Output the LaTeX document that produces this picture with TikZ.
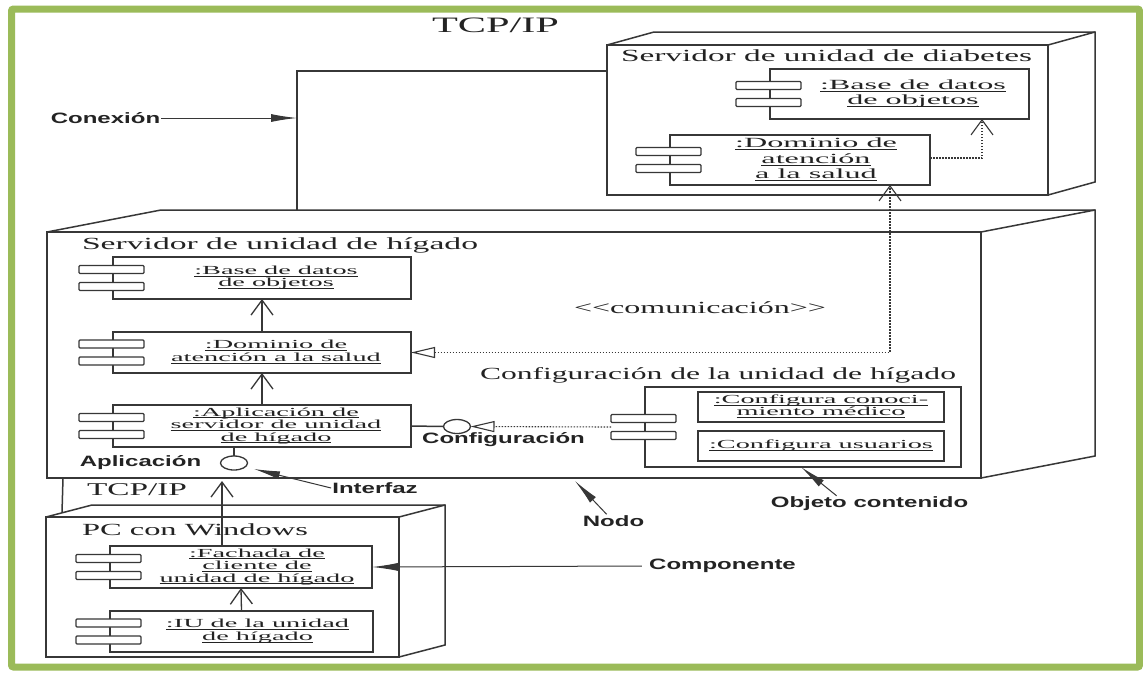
\documentclass[tikz,border=0pt]{standalone}
\usepackage{fontspec}
\usepackage{graphicx}
\usetikzlibrary{arrows.meta,calc,shapes.geometric}
\setmainfont{Liberation Serif}
\newfontfamily\cmpfont[FakeStretch=2.3]{Liberation Serif}
\newfontfamily\lblfont[FakeStretch=1.6]{Liberation Sans}
\definecolor{framegreen}{RGB}{155,187,89}
\definecolor{ink}{RGB}{55,55,55}
\definecolor{txt}{RGB}{35,35,35}

% single-line text stretched horizontally to a given width
\newcommand\fitw[3]{\resizebox{#1pt}{\height}{\fontsize{#2}{#2}\selectfont #3}}
% underline placed just below the baseline
\newcommand\ulin[1]{\setbox0=\hbox{#1}\rlap{\vrule height -1.4pt depth 2.4pt width \wd0}\box0}
% centred component label, shifted right by #1
\newcommand\cmptext[4]{\hspace*{#1pt}{\cmpfont\fontsize{#2}{#3}\selectfont\begin{tabular}{@{}c@{}}#4\end{tabular}}}
% the two small port rectangles of a UML component
\newcommand\cports[1]{%
  \draw[port] ($(#1.west)+(-34,-12.5)$) rectangle ($(#1.west)+(31,-4.5)$);
  \draw[port] ($(#1.west)+(-34,4.5)$) rectangle ($(#1.west)+(31,12.5)$);}
% top and side faces of a 3D deployment node
\newcommand\depthfaces[3]{%
  \draw[boxline] (#1.north west) -- ++(#2,#3) -- ($(#1.north east)+(#2,#3)$)
     -- ($(#1.south east)+(#2,#3)$) -- (#1.south east);
  \draw[boxline] (#1.north east) -- ++(#2,#3);}

\tikzset{
  boxline/.style={draw=ink, line width=1.5pt},
  face/.style={draw=ink, line width=1.5pt, fill=white, inner sep=0pt, outer sep=0pt, anchor=north west},
  comp/.style={draw=ink, line width=1.3pt, fill=white, inner sep=0pt, outer sep=0pt, text=txt},
  port/.style={draw=ink, line width=1.2pt, fill=white, rounded corners=1pt},
  title/.style={inner sep=0pt, outer sep=0pt, anchor=base west, text=txt},
  lbl/.style={inner sep=1pt, text=txt, font=\lblfont\bfseries\fontsize{15}{15}\selectfont},
  vee/.style={-{Straight Barb[length=15pt,width=22pt]}},
  navarrow/.style={draw=ink, line width=1.3pt, vee},
  dep/.style={draw=ink, line width=1.1pt, dash pattern=on 1.5pt off 1.5pt},
  hollow/.tip={Triangle[open,length=24pt,width=11pt]},
  annot/.style={draw=ink, line width=1pt, -{Latex[length=26pt,width=8pt]}},
  iface/.style={draw=ink, line width=1.3pt, fill=white, ellipse, minimum width=27pt,
    minimum height=14pt, inner sep=0pt, outer sep=0pt},
}

\begin{document}
\begin{tikzpicture}[x=1pt,y=-1pt]
\useasboundingbox (0,0) rectangle (1143,673);
\fill[white] (0,0) rectangle (1143,673);
\draw[line width=7pt, framegreen, rounded corners=2pt] (11.5,9) rectangle (1139.5,667);

% ---------- diabetes unit server ----------
\node[face, minimum width=441pt, minimum height=150pt] (diab) at (607,45) {};
\depthfaces{diab}{47}{-13}
\node[title] (diabt) at (621,61) {\fitw{411}{17}{Servidor de unidad de diabetes}};
\node[comp, minimum width=259pt, minimum height=50pt] (dbase) at (899.5,94)
  {\cmptext{27}{14}{15.5}{\ulin{:Base de datos}\\\ulin{de objetos}}};
\cports{dbase}
\node[comp, minimum width=260pt, minimum height=50pt] (ddom) at (800,160)
  {\cmptext{32}{14}{15.5}{\ulin{:Dominio de}\\\ulin{atención}\\\ulin{a la salud}}};
\cports{ddom}
\draw[dep, vee] ($(ddom.east)+(0,-2)$) -| ($(dbase.south west)+(212,0)$);

% ---------- liver unit server ----------
\node[face, minimum width=934pt, minimum height=246pt] (liver) at (47,232) {};
\depthfaces{liver}{114}{-22}
\node[title] (livert) at (82,249) {\fitw{396}{17}{Servidor de unidad de hígado}};
\node[comp, minimum width=298pt, minimum height=42pt] (lbase) at (262,278)
  {\cmptext{28}{12.3}{12.5}{\ulin{:Base de datos}\\\ulin{de objetos}}};
\cports{lbase}
\node[comp, minimum width=298pt, minimum height=41pt] (ldom) at (262,352.5)
  {\cmptext{28}{12.3}{12.5}{\ulin{:Dominio de}\\\ulin{atención a la salud}}};
\cports{ldom}
\node[comp, minimum width=298pt, minimum height=42pt] (lapp) at (262,426)
  {\cmptext{28}{12.3}{12.5}{\ulin{:Aplicación de}\\\ulin{servidor de unidad}\\\ulin{de hígado}}};
\cports{lapp}
\draw[navarrow] (ldom.north) -- (lbase.south);
\draw[navarrow] (lapp.north) -- (ldom.south);

% network link between the two servers
\node[title] (tcptop) at (432,32) {\fitw{127}{22}{TCP/IP}};
\draw[boxline] ($(diab.north west)+(0,26)$) -| ($(liver.north west)+(250,-22)$);
\node[lbl] (lconex) at (105.5,118) {Conexión};
\coordinate (conexpt) at (297,118);
\draw[annot] (lconex.east) -- (conexpt);

% communication dependency
\node[title] (comm) at (574,313) {\fitw{252}{17}{<{}<comunicación>{}>}};
\draw[dep, {hollow}-{Straight Barb[length=15pt,width=22pt]}]
  (ldom.east) -| ($(ddom.south west)+(220,0)$);

% configuration component
\node[title] (cfgt) at (480,379) {\fitw{476}{17}{Configuración de la unidad de hígado}};
\node[comp, minimum width=316pt, minimum height=80pt] (cfg) at (803,427) {};
\cports{cfg}
\node[comp, line width=2pt, minimum width=246pt, minimum height=30pt] (cfga) at (821,407)
  {\cmptext{0}{12.3}{11.5}{\ulin{:Configura conoci-}\\\ulin{miento médico}}};
\node[comp, line width=2pt, minimum width=246pt, minimum height=30pt] (cfgb) at (821,446)
  {\cmptext{0}{12.3}{12.5}{\ulin{:Configura usuarios}}};

% provided interfaces
\node[iface] (ifcfg) at (457,426.5) {};
\draw[boxline] (lapp.east) -- (ifcfg.west);
\draw[dep, -{hollow}] ($(cfg.west)+(-34,0)$) -- (ifcfg.east);
\node[lbl] (lcfg) at (503.5,440) {Configuración};
\node[iface] (ifapp) at (234,463) {};
\draw[boxline] (lapp.south -| ifapp) -- (ifapp.north);
\node[lbl] (lapl) at (140.5,463) {Aplicación};

% ---------- Windows PC ----------
\node[face, minimum width=353pt, minimum height=140pt] (pc) at (46,517) {};
\depthfaces{pc}{46}{-12}
\node[title] (pct) at (82,535) {\fitw{226}{17}{PC con Windows}};
\node[comp, minimum width=262pt, minimum height=42pt] (fach) at (241,567)
  {\cmptext{32}{12.3}{12.5}{\ulin{:Fachada de}\\\ulin{cliente de}\\\ulin{unidad de hígado}}};
\cports{fach}
\node[comp, minimum width=263pt, minimum height=41pt] (iu) at (241.5,631.5)
  {\cmptext{32}{12.3}{12.5}{\ulin{:IU de la unidad}\\\ulin{de hígado}}};
\cports{iu}
\draw[navarrow] (iu.north) -- (fach.south);
\coordinate (appin) at (222,481);
\draw[navarrow] (fach.north -| appin) -- (appin);

% network link between PC and liver server
\draw[boxline] ($(liver.south west)+(16,0)$) -- ($(pc.north west)+(16,-4.2)$);
\node[title] (tcpbot) at (87,495) {\fitw{100}{18}{TCP/IP}};

% ---------- annotations ----------
\node[lbl] (linterf) at (375,488) {Interfaz};
\coordinate (interfpt) at (254,469);
\draw[annot] (linterf.west) -- (interfpt);
\node[lbl] (lnodo) at (613.5,521) {Nodo};
\coordinate (nodopt) at (575,481);
\draw[annot] ($(lnodo.north west)+(25,0)$) -- (nodopt);
\node[lbl] (lobj) at (869.5,504) {Objeto contenido};
\draw[annot] ($(lobj.north west)+(67,0)$) -- ($(cfg.south west)+(156,0)$);
\node[lbl] (lcomp) at (722.5,566) {Componente};
\draw[annot] ($(lcomp.west)+(-6,0)$) -- (fach.east);
\end{tikzpicture}
\end{document}
